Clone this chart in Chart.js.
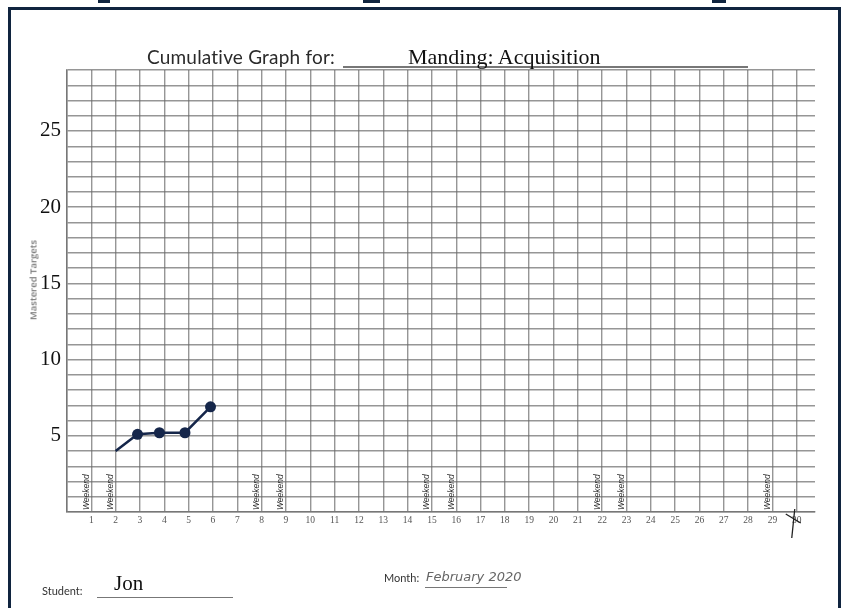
<!DOCTYPE html>
<html>
<head>
<meta charset="utf-8">
<script src="https://cdn.jsdelivr.net/npm/chart.js@4"></script>
<style>
  html, body { margin: 0; padding: 0; background: #fff; }
  #page { position: relative; width: 846px; height: 608px; overflow: hidden; background: #fff; }
  #chartBox { position: absolute; left: 0; top: 0; width: 846px; height: 608px; }
  .frame { position: absolute; left: 8px; top: 7px; width: 827px; height: 620px;
           border: 3px solid #10243f; border-bottom: none; }
  .tab { position: absolute; top: 0; height: 3px; background: #10243f; }
  .txt { position: absolute; white-space: nowrap; }
  .rule { position: absolute; height: 1px; background: #666; }
</style>
</head>
<body>
<div id="page">
  <div class="frame"></div>
  <div class="tab" style="left:98px;width:12px"></div>
  <div class="tab" style="left:363px;width:17px"></div>
  <div class="tab" style="left:712px;width:14px"></div>

  <div id="chartBox"><canvas id="myChart"></canvas></div>

  <div class="txt" style="left:147px;top:45px;font:19px Lato, sans-serif;color:#2a2a2a;letter-spacing:0.2px">Cumulative Graph for:</div>
  <div class="rule" style="left:343px;top:66px;width:405px;height:1.5px;background:#777"></div>
  <div class="txt" style="left:408px;top:44px;font:22px 'Liberation Serif', serif;color:#111">Manding: Acquisition</div>

  <div class="txt" style="left:33px;top:280px;transform:translate(-50%,-50%) rotate(-90deg);font:600 9.5px 'Open Sans', sans-serif;color:#777">Mastered Targets</div>

  <div class="txt" style="left:42px;top:584px;font:11px Lato, sans-serif;color:#333">Student:</div>
  <div class="rule" style="left:97px;top:597px;width:136px;background:#777"></div>
  <div class="txt" style="left:114px;top:571px;font:21px 'Liberation Serif', serif;color:#111">Jon</div>

  <div class="txt" style="left:384px;top:571px;font:11px Lato, sans-serif;color:#333">Month:</div>
  <div class="rule" style="left:425px;top:587px;width:82px;background:#777"></div>
  <div class="txt" style="left:426px;top:569px;font:italic 13px 'DejaVu Sans', sans-serif;color:#666">February 2020</div>
</div>

<script>
// Chart data
const days = [2, 2.9, 3.8, 4.85, 5.9];
const mastered = [4, 5.1, 5.2, 5.2, 6.9];
const showMarker = [false, true, true, true, true];
const weekendDays = [1, 2, 8, 9, 15, 16, 22, 23, 29];
const dayTicks = [1, 2, 3, 4, 5, 6, 7, 8, 9, 10, 11, 12, 13, 14, 15, 16, 17, 18, 19, 20,
                  21, 22, 23, 24, 25, 26, 27, 28, 29, 30];
const yTicks = [5, 10, 15, 20, 25];
const endDay = 30;

const gridColor = 'rgba(105, 105, 105, 0.7)';
const ink = '#15264a';

// Hand written "Weekend" notes and the end-of-month mark
const notesPlugin = {
    id: 'notes',
    afterDatasetsDraw(chart) {
        const ctx = chart.ctx;
        const x = chart.scales.x;
        const bottom = chart.chartArea.bottom;
        ctx.save();
        ctx.fillStyle = '#333';
        ctx.font = 'italic 8.5px "Liberation Sans", sans-serif';
        ctx.textAlign = 'left';
        ctx.textBaseline = 'middle';
        weekendDays.forEach(d => {
            ctx.save();
            ctx.translate(x.getPixelForValue(d) - 5, bottom - 2);
            ctx.rotate(-Math.PI / 2);
            ctx.fillText('Weekend', 0, 0);
            ctx.restore();
        });

        const ex = x.getPixelForValue(endDay);
        ctx.strokeStyle = '#222';
        ctx.lineWidth = 1.3;
        ctx.beginPath();
        ctx.moveTo(ex - 11, bottom + 2);
        ctx.lineTo(ex + 4, bottom + 11);
        ctx.moveTo(ex - 2, bottom - 3);
        ctx.lineTo(ex - 5, bottom + 26);
        ctx.stroke();
        ctx.restore();
    }
};

const ctx = document.getElementById('myChart').getContext('2d');
const myChart = new Chart(ctx, {
    type: 'line',
    data: {
        datasets: [{
            label: 'Mastered Targets',
            data: days.map((d, i) => ({ x: d, y: mastered[i] })),
            borderColor: ink,
            backgroundColor: ink,
            borderWidth: 2.5,
            pointRadius: showMarker.map(s => s ? 5.5 : 0),
            pointBackgroundColor: ink,
            pointBorderWidth: 0,
            tension: 0
        }]
    },
    options: {
        responsive: true,
        maintainAspectRatio: false,
        animation: false,
        layout: {
            padding: { left: 7, top: 70, right: 31, bottom: 76 }
        },
        plugins: {
            legend: { display: false },
            tooltip: { enabled: false }
        },
        scales: {
            x: {
                type: 'linear',
                min: 0,
                max: 30.75,
                afterFit: s => { s.height = 20; },
                grid: { color: gridColor, lineWidth: 1.4, drawTicks: false },
                border: { color: gridColor, width: 1.6 },
                ticks: {
                    stepSize: 1,
                    includeBounds: false,
                    autoSkip: false,
                    maxRotation: 0,
                    padding: 3,
                    color: '#555',
                    font: { family: '"Liberation Serif", serif', size: 9.5 },
                    callback: v => dayTicks.includes(v) ? String(v) : ''
                }
            },
            y: {
                min: 0,
                max: 29,
                afterFit: s => { s.width = 60; },
                grid: { color: gridColor, lineWidth: 1.4, drawTicks: false },
                border: { color: gridColor, width: 1.6 },
                ticks: {
                    stepSize: 1,
                    autoSkip: false,
                    padding: 6,
                    color: '#111',
                    font: { family: '"Liberation Serif", serif', size: 21 },
                    callback: v => yTicks.includes(v) ? String(v) : ''
                }
            }
        }
    },
    plugins: [notesPlugin]
});
</script>
</body>
</html>
